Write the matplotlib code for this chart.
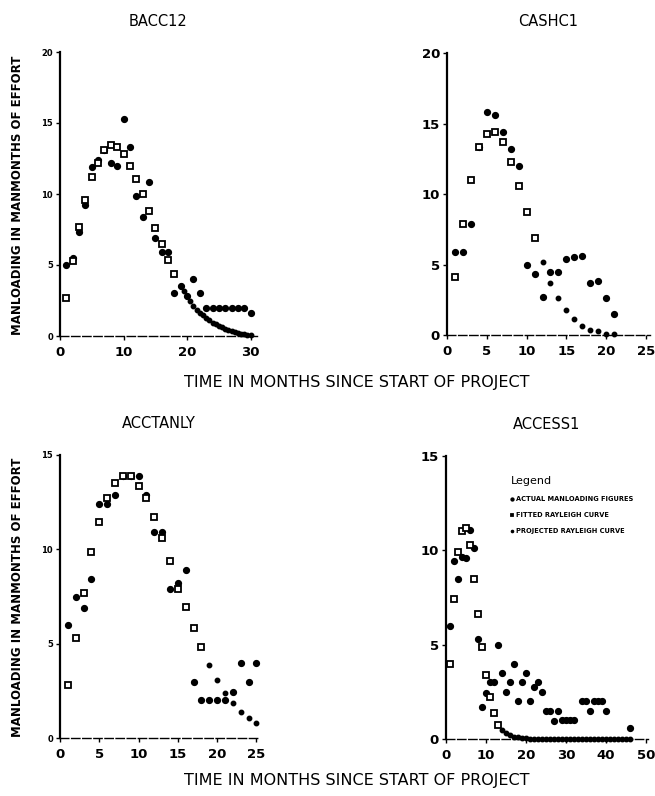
import numpy as np
import matplotlib
matplotlib.use("Agg")
import matplotlib.pyplot as plt

# ---- data ----
# BACC12
bacc_x_act = list(range(1, 31))
bacc_act = [5.0, 5.5, 7.3, 9.2, 11.9, 12.4, 13.1, 12.2, 12.0, 15.3, 13.3, 9.86, 8.35, 10.87, 6.9,
            5.9, 5.9, 3.05, 3.5, 2.8, 4.0, 3.05, 2.0, 2.0, 2.0, 2.0, 2.0, 2.0, 2.0, 1.6]
bacc_x_fit = list(range(1, 19))
bacc_fit = [2.7, 5.3, 7.7, 9.6, 11.2, 12.2, 13.1, 13.45, 13.3, 12.8, 12.0, 11.05, 9.97, 8.8, 7.6,
            6.5, 5.35, 4.4]
bacc_x_proj = [19, 19.5, 20, 20.5, 21, 21.5, 22, 22.5, 23, 23.5, 24, 24.5, 25, 25.5, 26, 26.5,
               27, 27.5, 28, 28.5, 29, 29.5, 30]
bacc_proj = [3.5, 3.15, 2.8, 2.45, 2.1, 1.85, 1.65, 1.45, 1.25, 1.1, 0.95, 0.82, 0.7, 0.6, 0.5,
             0.42, 0.35, 0.28, 0.22, 0.17, 0.13, 0.1, 0.07]

# CASHC1
cash_x_act = list(range(1, 22))
cash_act = [5.9, 5.9, 7.85, 13.35, 15.8, 15.6, 14.4, 13.2, 12.0, 4.96, 4.3, 2.7, 4.5, 4.45, 5.4,
            5.5, 5.6, 3.7, 3.8, 2.65, 1.5]
cash_x_fit = list(range(1, 12))
cash_fit = [4.1, 7.9, 11.0, 13.35, 14.25, 14.4, 13.7, 12.3, 10.6, 8.7, 6.85]
cash_x_proj = list(range(12, 22))
cash_proj = [5.15, 3.7, 2.65, 1.77, 1.1, 0.66, 0.35, 0.25, 0.1, 0.05]

# ACCTANLY
acct_x_act = list(range(1, 26))
acct_act = [6.0, 7.45, 6.9, 8.45, 12.4, 12.4, 12.9, 13.9, 13.9, 13.9, 12.9, 10.9, 10.9, 7.9, 8.2,
            8.9, 2.95, 2.0, 2.0, 2.0, 2.0, 2.45, 3.95, 2.95, 3.95]
acct_x_fit = list(range(1, 19))
acct_fit = [2.8, 5.3, 7.7, 9.86, 11.45, 12.7, 13.5, 13.9, 13.9, 13.37, 12.7, 11.7, 10.6, 9.4, 7.9,
            6.96, 5.84, 4.8]
acct_x_proj = list(range(19, 26))
acct_proj = [3.86, 3.07, 2.4, 1.84, 1.4, 1.05, 0.79]

# ACCESS1
acc1_x_act = [1, 2, 3, 4, 5, 6, 7, 8, 9, 10, 11, 12, 13, 14, 15, 16, 17, 18, 19, 20, 21, 22, 23,
              24, 25, 26, 27, 28, 29, 30, 31, 32, 34, 35, 36, 37, 38, 39, 40, 46]
acc1_act = [6.0, 9.45, 8.5, 9.66, 9.6, 11.1, 10.1, 5.3, 1.67, 2.43, 3.0, 3.0, 5.0, 3.5, 2.5, 3.0,
            4.0, 2.0, 3.0, 3.5, 2.0, 2.77, 3.0, 2.47, 1.5, 1.5, 0.98, 1.5, 1.0, 1.0, 1.0, 1.0,
            2.0, 2.0, 1.5, 2.0, 2.0, 2.0, 1.5, 0.58]
acc1_x_fit = list(range(1, 14))
acc1_fit = [4.0, 7.4, 9.9, 11.0, 11.2, 10.3, 8.5, 6.6, 4.9, 3.4, 2.2, 1.37, 0.76]
acc1_x_proj = list(range(14, 47))
acc1_proj = [0.5, 0.32, 0.2, 0.12, 0.08, 0.05, 0.03, 0.02, 0.02, 0.01, 0.01, 0.01, 0.01, 0.0,
             0.0, 0.0, 0.0, 0.0, 0.0, 0.0, 0.0, 0.0, 0.0, 0.0, 0.0, 0.0, 0.0, 0.0, 0.0, 0.0,
             0.0, 0.0, 0.0]

# name, series..., axes box in px (l, t, r, b), xlim, xticks, ylim, yticks, y tick font size
panels = [
    ("BACC12", bacc_x_act, bacc_act, bacc_x_fit, bacc_fit, bacc_x_proj, bacc_proj,
     [60, 52, 257, 336], (0, 31), [0, 10, 20, 30], (0, 20), [0, 5, 10, 15, 20], 6),
    ("CASHC1", cash_x_act, cash_act, cash_x_fit, cash_fit, cash_x_proj, cash_proj,
     [447, 53, 650, 335], (0, 25.5), [0, 5, 10, 15, 20, 25], (0, 20), [0, 5, 10, 15, 20], 9.5),
    ("ACCTANLY", acct_x_act, acct_act, acct_x_fit, acct_fit, acct_x_proj, acct_proj,
     [60, 455, 258, 738], (0, 25.2), [0, 5, 10, 15, 20, 25], (0, 15), [0, 5, 10, 15], 6),
    ("ACCESS1", acc1_x_act, acc1_act, acc1_x_fit, acc1_fit, acc1_x_proj, acc1_proj,
     [446, 456, 648, 739], (0, 50.5), [0, 10, 20, 30, 40, 50], (0, 15), [0, 5, 10, 15], 9.5),
]

W, H = 655, 796
fig = plt.figure(figsize=(W / 100, H / 100), dpi=100)
fnt = ["Liberation Sans Narrow", "DejaVu Sans"]

for name, xa, ya, xf, yf, xp, yp, box, xl, xt, yl, yt, ysz in panels:
    l, t, r, b = box
    ax = fig.add_axes([l / W, 1 - b / H, (r - l) / W, (b - t) / H])
    ax.plot(xa, ya, "o", color="black", ms=4.2, clip_on=False, label="ACTUAL MANLOADING FIGURES")
    ax.plot(xf, yf, "s", mfc="white", mec="black", mew=1.3, ms=4.2, clip_on=False,
            label="FITTED RAYLEIGH CURVE")
    ax.plot(xp, yp, "o", color="black", ms=3.2, clip_on=False, label="PROJECTED RAYLEIGH CURVE")
    ax.set_xlim(*xl)
    ax.set_ylim(*yl)
    ax.set_xticks(xt)
    ax.set_yticks(yt)
    for s in ["top", "right"]:
        ax.spines[s].set_visible(False)
    ax.spines["left"].set_linewidth(1.6)
    ax.spines["bottom"].set_linewidth(1.0)
    ax.spines["bottom"].set_linestyle((0, (6, 2)))
    ax.tick_params(direction="out", length=3, width=1)
    ax.tick_params(axis="x", labelsize=9.5, pad=4)
    ax.tick_params(axis="y", labelsize=ysz, pad=2)
    for lab in ax.get_xticklabels() + ax.get_yticklabels():
        lab.set_fontweight("bold")
        lab.set_family(fnt)
    fig.text((l + r) / 2 / W, 1 - (t - 31) / H, name, ha="center", va="center",
             fontsize=10.5, family=fnt)
    if name == "ACCESS1":
        lg = ax.legend(loc="upper left", bbox_to_anchor=(0.29, 0.95), frameon=False,
                       title="Legend", alignment="left", fontsize=4.8, markerscale=0.5,
                       handlelength=0.5, handletextpad=0.3, labelspacing=1.5,
                       title_fontsize=8)
        lg.get_title().set_family(fnt)
        for txt in lg.get_texts():
            txt.set_fontweight("bold")
            txt.set_family(fnt)

ylab = "MANLOADING IN MANMONTHS OF EFFORT"
fig.text(18 / W, 1 - 195 / H, ylab, rotation=90, ha="center", va="center", fontsize=8.5,
         fontweight="bold", family=fnt)
fig.text(18 / W, 1 - 597 / H, ylab, rotation=90, ha="center", va="center", fontsize=8.5,
         fontweight="bold", family=fnt)

xlab = "TIME IN MONTHS SINCE START OF PROJECT"
fig.text(357 / W, 1 - 383 / H, xlab, ha="center", va="center", fontsize=11.5)
fig.text(357 / W, 1 - 781 / H, xlab, ha="center", va="center", fontsize=11.5)

fig.savefig("out.png", dpi=100)
